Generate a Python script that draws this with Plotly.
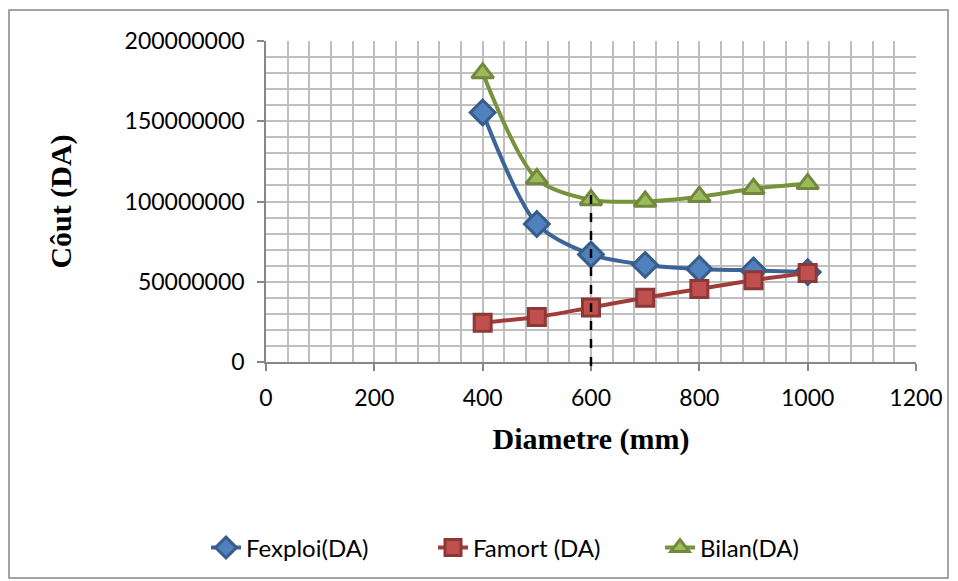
import plotly.graph_objects as go

diametre = [400, 500, 600, 700, 800, 900, 1000]
fexploi = [155.5e6, 86e6, 67e6, 60.5e6, 58e6, 57e6, 56e6]
famort = [24.5e6, 28e6, 34e6, 40e6, 45.5e6, 51e6, 55.5e6]
bilan = [180e6, 114e6, 101e6, 100e6, 103e6, 108e6, 111e6]
optimum_d = 600
optimum_bilan = 104e6

x_range = [0, 1200]
y_range = [0, 200e6]

W, H = 958, 581
L, R, T, B = 266, 42, 41, 219
pw, ph = W - L - R, H - T - B

def px_x(p):
    return (p - L) / pw

def px_y(p):
    return (H - B - p) / ph

fig = go.Figure()
fig.add_trace(go.Scatter(
    x=diametre, y=fexploi, name="Fexploi(DA)", mode="lines+markers",
    line=dict(color="#3B6597", width=4, shape="spline", smoothing=0.8),
    marker=dict(symbol="diamond", size=19, color="#4F81BD", line=dict(color="#385D8A", width=3)),
    cliponaxis=False))
fig.add_trace(go.Scatter(
    x=diametre, y=famort, name="Famort (DA)", mode="lines+markers",
    line=dict(color="#A03D3A", width=4, shape="spline", smoothing=0.8),
    marker=dict(symbol="square", size=17, color="#C0504D", line=dict(color="#8C3836", width=3)),
    cliponaxis=False))
fig.add_trace(go.Scatter(
    x=diametre, y=bilan, name="Bilan(DA)", mode="lines+markers",
    line=dict(color="#77933C", width=4, shape="spline", smoothing=0.8),
    marker=dict(symbol="triangle-up", size=19, color="#9BBB59", line=dict(color="#71893F", width=3)),
    cliponaxis=False))

# dashed optimum line (paper coords computed from data)
xp = (optimum_d - x_range[0]) / (x_range[1] - x_range[0])
yp_top = (optimum_bilan - y_range[0]) / (y_range[1] - y_range[0])
fig.add_shape(type="line", xref="paper", yref="paper", x0=xp, x1=xp,
              y0=yp_top, y1=px_y(374), line=dict(color="black", width=2.5, dash="dash"),
              layer="above")

# outer chart border
fig.add_shape(type="rect", xref="paper", yref="paper",
              x0=px_x(9), x1=px_x(948), y0=px_y(578), y1=px_y(10),
              line=dict(color="#868686", width=1.5), fillcolor="rgba(0,0,0,0)")

tick_font = dict(family="Lato, Liberation Sans, sans-serif", size=23, color="black")
title_font = dict(family="Liberation Serif, Times New Roman, serif", size=30, color="black")
grid_c = "#BFBFBF"

fig.update_layout(
    width=W, height=H, margin=dict(l=L, r=R, t=T, b=B, autoexpand=False),
    paper_bgcolor="white", plot_bgcolor="white",
    showlegend=True,
    legend=dict(orientation="h", x=px_x(206), xanchor="left", y=px_y(548), yanchor="middle",
                font=dict(family="Lato, Liberation Sans, sans-serif", size=24, color="black"),
                entrywidth=182, entrywidthmode="pixels"),
    xaxis=dict(range=x_range, dtick=200, tick0=0, showgrid=True, gridcolor=grid_c, gridwidth=1.5,
               minor=dict(dtick=40, showgrid=True, gridcolor=grid_c, gridwidth=1.5),
               showline=True, linecolor="#868686", linewidth=1.5,
               ticks="outside", ticklen=7, tickcolor="#868686", tickwidth=1.5,
               ticklabelstandoff=8,
               tickfont=tick_font, zeroline=False,
               title=dict(text="<b>Diametre (mm)</b>", font=title_font, standoff=18)),
    yaxis=dict(range=y_range, dtick=50e6, tick0=0, showgrid=True, gridcolor=grid_c, gridwidth=1.5,
               minor=dict(dtick=10e6, showgrid=True, gridcolor=grid_c, gridwidth=1.5),
               showline=True, linecolor="#868686", linewidth=1.5,
               ticks="outside", ticklen=7, tickcolor="#868686", tickwidth=1.5,
               ticklabelstandoff=8,
               tickformat="d", tickfont=tick_font, zeroline=False,
               title=dict(text="<b>Côut (DA)</b>", font=title_font, standoff=44)),
)

fig.write_html("out.html")
